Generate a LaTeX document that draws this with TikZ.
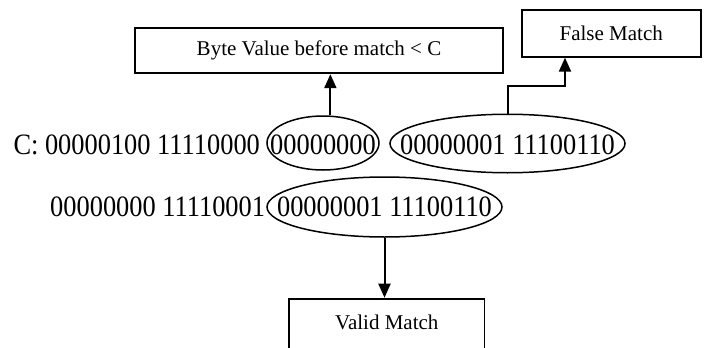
\documentclass[tikz,border=0pt]{standalone}
\usepackage{fontspec}
\setmainfont{Liberation Serif}
\usetikzlibrary{positioning, shapes.geometric, arrows.meta}

% bit strings are set a little taller than wide
\newcommand{\tallbits}[1]{\scalebox{1}[1.12]{#1}}

\begin{document}
\begin{tikzpicture}[
    x=1pt, y=-1pt,
    bits/.style={inner sep=0pt, font=\fontsize{26.4}{30}\selectfont},
    oval/.style={ellipse, draw, line width=1.5pt, inner sep=0pt},
    box/.style={rectangle, draw, line width=1.8pt, inner sep=0pt,
                align=center, font=\fontsize{21}{25}\selectfont},
    arr/.style={-{Triangle[width=12pt,length=14pt]}, line width=2pt},
    ]
    \clip (0,0) rectangle (705,348);

    % the two bit strings
    \node[bits, anchor=west] (rowC) at (13.3,145) {\tallbits{C: 00000100 11110000}};
    \node[bits] (cLow)  at (323,145)   {\tallbits{00000000}};
    \node[bits] (cTail) at (507.5,145) {\tallbits{00000001 11100110}};

    \node[bits, anchor=west] (rowD) at (50,207) {\tallbits{00000000 11110001}};
    \node[bits] (dTail) at (384.5,207) {\tallbits{00000001 11100110}};

    % rings round the compared bytes
    \node[oval, minimum width=112, minimum height=54] (ovLow)
        at ([yshift=2]cLow.center) {};
    \node[oval, minimum width=235, minimum height=58.5] (ovTail)
        at ([yshift=1.5]cTail.center) {};
    \node[oval, minimum width=235, minimum height=60] (ovD)
        at (dTail.center) {};

    % outcomes
    \node[box, minimum width=367.7, minimum height=45] (byteBox)
        at (319,50.8) {Byte Value before match < C};
    \node[box, minimum width=179, minimum height=46.7] (falseBox)
        at (611.2,33.4) {False Match};
    \node[box, anchor=north, minimum width=195.2, minimum height=70,
          text depth=22pt] (validBox)
        at (386.8,297.7) {Valid Match};

    \coordinate (kink) at (565,86);

    \draw[arr] (ovLow.75) -- (ovLow.75 |- byteBox.south);
    \draw[arr] (ovTail.north) |- (kink) -- (kink |- falseBox.south);
    \draw[arr] (ovD.south) -- (ovD.south |- validBox.north);

\end{tikzpicture}
\end{document}
